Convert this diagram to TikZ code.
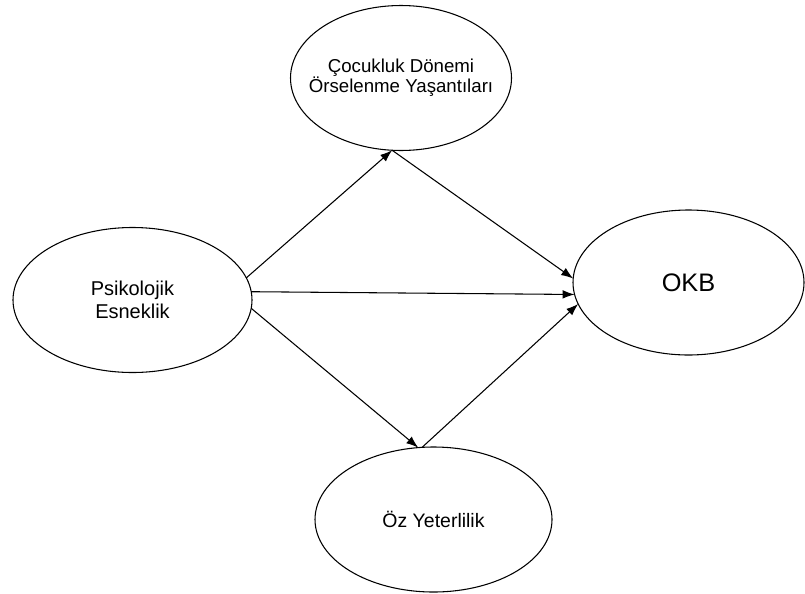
\documentclass[tikz,border=0pt]{standalone}
\usepackage{fontspec}
\setmainfont{Liberation Sans}
\usetikzlibrary{shapes.geometric,arrows.meta}

\begin{document}
\begin{tikzpicture}[
    x=0.75pt,y=-0.75pt,
    latent/.style={ellipse,draw,line width=0.8pt,inner sep=0pt,outer sep=0pt,
      minimum height=108.75pt,align=center},
    path/.style={line width=0.8pt,-{Latex[length=9pt,width=6.5pt]}}
    ]

    \useasboundingbox (0,0) rectangle (805,593);

    % the two-line text would widen the ellipse, so it goes in as a label
    \node(cocuk) [latent,minimum width=165.75pt,
      label={[align=center,font=\fontsize{14}{15}\selectfont]center:%
        Çocukluk Dönemi\\Örselenme Yaşantıları}] at (401,78) {};
    \node(psiko) [latent,minimum width=179.25pt,
      font=\fontsize{15}{17.25}\selectfont] at (132.5,300)
      {Psikolojik\\Esneklik};
    \node(okb) [latent,minimum width=173.25pt,
      font=\fontsize{19}{22}\selectfont] at (688.5,282.5) {OKB};
    \node(oz) [latent,minimum width=177.75pt,
      font=\fontsize{14.6}{17}\selectfont] at (433.5,519.5) {Öz Yeterlilik};

    \draw[path] (psiko.11) -- (cocuk.263);
    \draw[path] (cocuk.263) -- (okb.178);
    \draw[path] (psiko.4) -- (okb.186);
    \draw[path] (psiko.-4) -- (oz.102);
    \draw[path] (oz.99) -- (okb.191);

  \end{tikzpicture}
\end{document}
